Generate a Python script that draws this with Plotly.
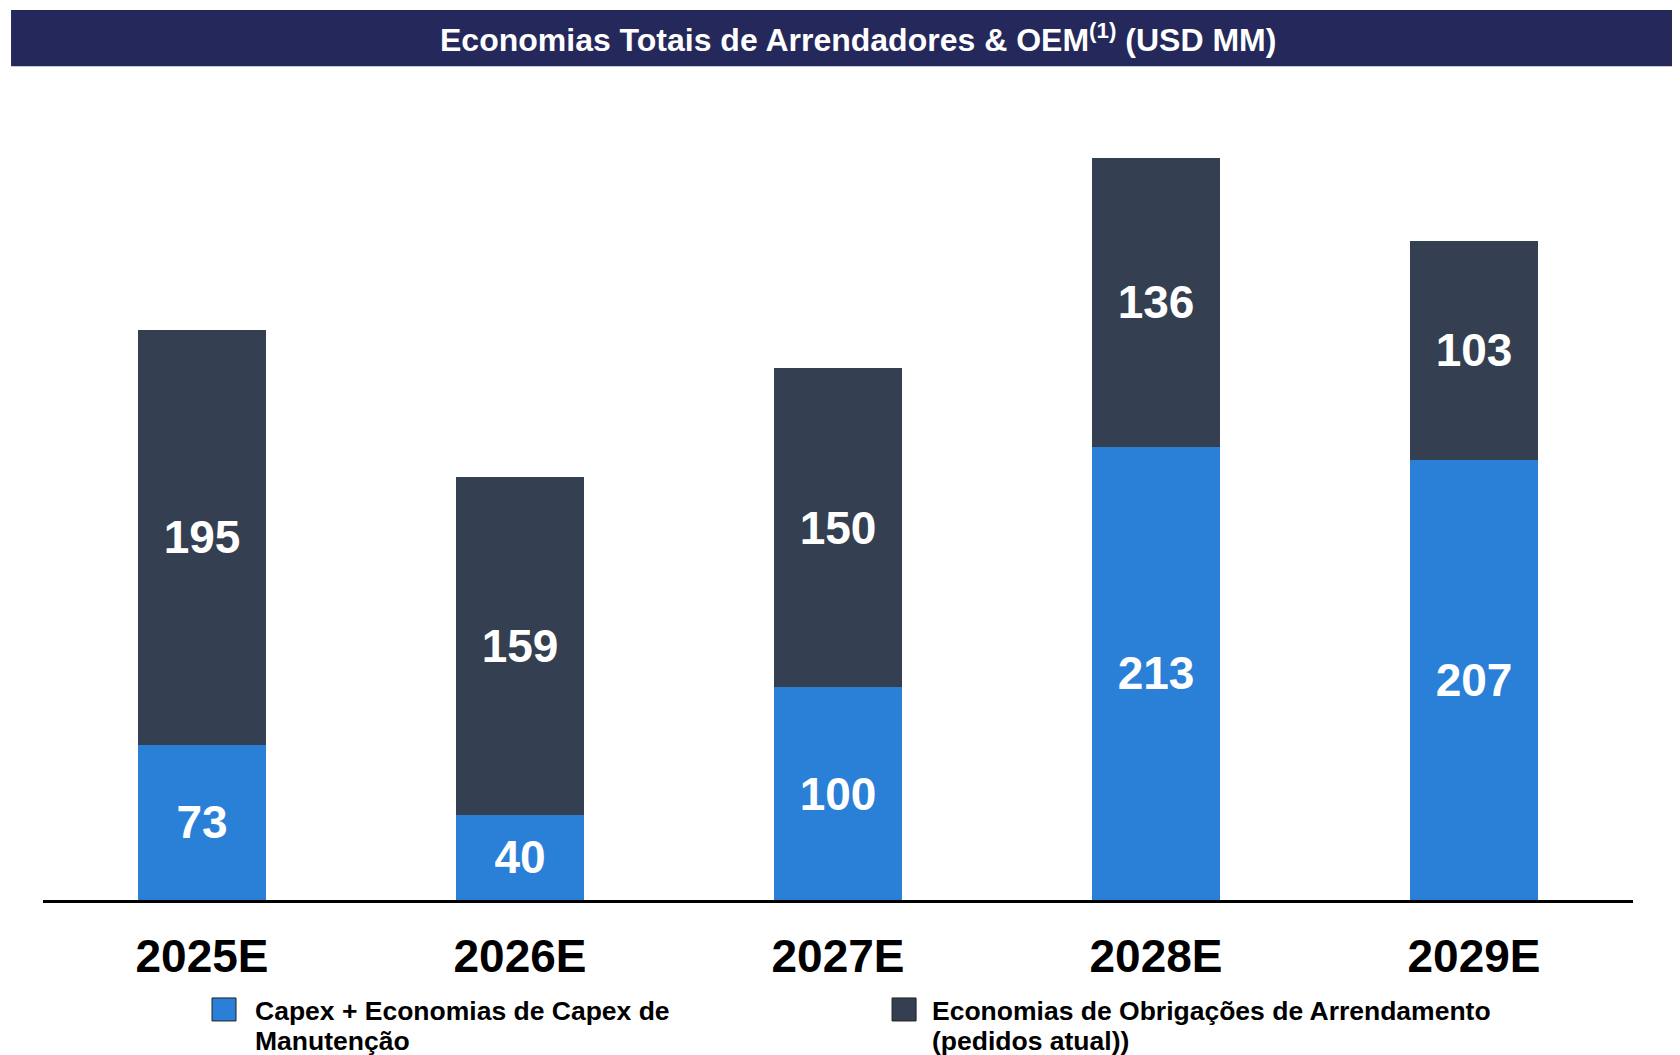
import plotly.graph_objects as go

years = ['2025E', '2026E', '2027E', '2028E', '2029E']
capex = [73, 40, 100, 213, 207]
arrend = [195, 159, 150, 136, 103]

legend_lines = [['Capex + Economias de Capex de', 'Manutenção'],
                ['Economias de Obrigações de Arrendamento', '(pedidos atual))']]
title_text = 'Economias Totais de Arrendadores & OEM<sup>(1)</sup> (USD MM)'

blue = '#2A7FD7'
dark = '#343F51'
navy = '#25285A'
font = 'Liberation Sans, Arial, sans-serif'

fig = go.Figure()
fig.add_bar(x=years, y=capex, name='capex', marker_color=blue, marker_line_width=0,
            text=capex, textposition='inside', insidetextanchor='middle',
            constraintext='none',
            textfont=dict(size=46, color='white', family=font, weight='bold'))
fig.add_bar(x=years, y=arrend, name='arrend', marker_color=dark, marker_line_width=0,
            text=arrend, textposition='inside', insidetextanchor='middle',
            constraintext='none',
            textfont=dict(size=46, color='white', family=font, weight='bold'))

# page has an 8px body margin, so the figure is shifted by 8px
fig.update_layout(
    barmode='stack', bargap=0.6, showlegend=False,
    width=1680, height=1047,
    margin=dict(l=35, r=55, t=112, b=155),
    plot_bgcolor='white', paper_bgcolor='white',
    font=dict(family=font),
)
fig.update_xaxes(showline=True, linecolor='black', linewidth=3, showgrid=False,
                 ticks='', ticklabelstandoff=14,
                 tickfont=dict(size=46, color='black', family=font, weight='bold'))
fig.update_yaxes(range=[0, 366.7], visible=False)

# title bar
fig.add_shape(type='rect', xref='paper', yref='paper', x0=-0.0201, x1=1.04,
              y0=1.069, y1=1.141, fillcolor=navy, line_width=0, layer='below')
fig.add_annotation(xref='paper', yref='paper', x=0.5126, y=1.105, yanchor='middle',
                   text=title_text, showarrow=False,
                   font=dict(size=32, color='white', family=font, weight='bold'))

# legend
colors = [blue, dark]
sq_x = [0.1063, 0.534]
txt_x = [0.1319, 0.5577]
line_y = [-0.1428, -0.1813]
for i in range(2):
    fig.add_shape(type='rect', xref='paper', yref='paper', x0=sq_x[i], x1=sq_x[i] + 0.0151,
                  y0=-0.1551, y1=-0.1256, fillcolor=colors[i], line=dict(color='#222222', width=1))
    for j in range(2):
        fig.add_annotation(xref='paper', yref='paper', x=txt_x[i], y=line_y[j], xanchor='left',
                           yanchor='middle', text=legend_lines[i][j], showarrow=False,
                           font=dict(size=26.5, color='black', family=font, weight='bold'))

fig.write_html("out.html")
